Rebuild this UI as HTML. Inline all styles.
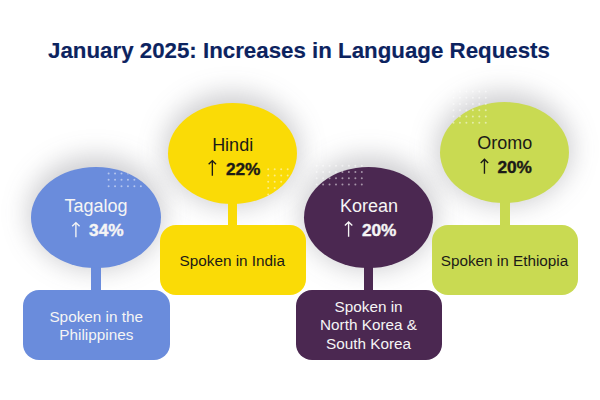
<!DOCTYPE html>
<html>
<head>
<meta charset="utf-8">
<style>
html,body{margin:0;padding:0;background:#fff;}
body{width:600px;height:400px;position:relative;overflow:hidden;font-family:"Liberation Sans",sans-serif;}
.a{position:absolute;}
.sh{position:absolute;border-radius:50%;background:rgba(60,60,72,0.25);filter:blur(13px);width:136px;height:114px;}
.el{position:absolute;width:129.5px;height:101.2px;border-radius:50%;}
.bx{position:absolute;width:146.6px;height:70px;border-radius:16px;}
.st{position:absolute;width:9.8px;}
.t{position:absolute;width:200px;text-align:center;white-space:pre;}
.nm{font-size:18px;line-height:24px;height:24px;}
.num{position:absolute;font-size:17.3px;line-height:24px;height:24px;font-weight:bold;white-space:pre;-webkit-text-stroke:0.4px currentColor;}
.bt{font-size:15.3px;line-height:19px;height:19px;}
.blue{background:#6A8CDC;}.yel{background:#FADB06;}.pur{background:#4B2851;}.grn{background:#C9DA52;}
.wt{color:#F5F5F5;}.dk{color:#1C1A17;}
.title{position:absolute;left:0;width:598px;line-height:30px;font-size:22.3px;font-weight:bold;color:#0C235F;text-align:center;white-space:pre;-webkit-text-stroke:0.15px currentColor;}
</style>
</head>
<body>
<div class="title" style="top:35.87px;">January 2025: Increases in Language Requests</div>
<div class="sh" style="left:27.75px;top:156.40px;"></div>
<div class="sh" style="left:164.25px;top:92.90px;"></div>
<div class="sh" style="left:300.65px;top:156.40px;"></div>
<div class="sh" style="left:436.35px;top:91.60px;"></div>
<div class="st blue" style="left:91.10px;top:262.00px;height:31.90px;"></div>
<div class="bx blue" style="left:23.1px;top:289.9px;"></div>
<div class="el blue" style="left:31.0px;top:166.8px;"></div>
<div class="st yel" style="left:227.60px;top:198.50px;height:30.10px;"></div>
<div class="bx yel" style="left:159.5px;top:224.6px;"></div>
<div class="el yel" style="left:167.5px;top:103.3px;"></div>
<div class="st pur" style="left:363.60px;top:262.00px;height:31.90px;"></div>
<div class="bx pur" style="left:295.5px;top:289.9px;"></div>
<div class="el pur" style="left:303.9px;top:166.8px;"></div>
<div class="st grn" style="left:499.80px;top:197.20px;height:31.40px;"></div>
<div class="bx grn" style="left:431.5px;top:224.6px;"></div>
<div class="el grn" style="left:439.6px;top:102.0px;"></div>
<svg class="a" style="left:0;top:0;" width="600" height="400"><defs><clipPath id="c0"><ellipse cx="95.75" cy="217.40" rx="64.75" ry="50.60"/></clipPath><clipPath id="c1"><ellipse cx="232.25" cy="153.90" rx="64.75" ry="50.60"/></clipPath><clipPath id="c2"><ellipse cx="368.65" cy="217.40" rx="64.75" ry="50.60"/></clipPath><clipPath id="c3"><ellipse cx="504.35" cy="152.60" rx="64.75" ry="50.60"/></clipPath></defs><g fill="#fff" fill-opacity="0.5" clip-path="url(#c0)"><circle cx="108.60" cy="173.50" r="1"/><circle cx="115.05" cy="173.50" r="1"/><circle cx="121.50" cy="173.50" r="1"/><circle cx="127.95" cy="173.50" r="1"/><circle cx="134.40" cy="173.50" r="1"/><circle cx="140.85" cy="173.50" r="1"/><circle cx="108.60" cy="179.85" r="1"/><circle cx="115.05" cy="179.85" r="1"/><circle cx="121.50" cy="179.85" r="1"/><circle cx="127.95" cy="179.85" r="1"/><circle cx="134.40" cy="179.85" r="1"/><circle cx="140.85" cy="179.85" r="1"/><circle cx="108.60" cy="186.20" r="1"/><circle cx="115.05" cy="186.20" r="1"/><circle cx="121.50" cy="186.20" r="1"/><circle cx="127.95" cy="186.20" r="1"/><circle cx="134.40" cy="186.20" r="1"/><circle cx="140.85" cy="186.20" r="1"/></g><g fill="#fff" fill-opacity="0.5" clip-path="url(#c1)"><circle cx="268.20" cy="169.20" r="1"/><circle cx="274.70" cy="169.20" r="1"/><circle cx="281.20" cy="169.20" r="1"/><circle cx="287.70" cy="169.20" r="1"/><circle cx="268.20" cy="175.50" r="1"/><circle cx="274.70" cy="175.50" r="1"/><circle cx="281.20" cy="175.50" r="1"/><circle cx="287.70" cy="175.50" r="1"/><circle cx="268.20" cy="181.80" r="1"/><circle cx="274.70" cy="181.80" r="1"/><circle cx="281.20" cy="181.80" r="1"/><circle cx="287.70" cy="181.80" r="1"/><circle cx="268.20" cy="188.10" r="1"/><circle cx="274.70" cy="188.10" r="1"/><circle cx="281.20" cy="188.10" r="1"/><circle cx="287.70" cy="188.10" r="1"/><circle cx="268.20" cy="194.40" r="1"/><circle cx="274.70" cy="194.40" r="1"/><circle cx="281.20" cy="194.40" r="1"/><circle cx="287.70" cy="194.40" r="1"/></g><g fill="#fff" fill-opacity="0.5"><circle cx="316.65" cy="165.70" r="1"/><circle cx="323.10" cy="165.70" r="1"/><circle cx="329.55" cy="165.70" r="1"/><circle cx="336.00" cy="165.70" r="1"/><circle cx="342.45" cy="165.70" r="1"/><circle cx="348.90" cy="165.70" r="1"/><circle cx="355.35" cy="165.70" r="1"/><circle cx="361.80" cy="165.70" r="1"/><circle cx="316.65" cy="172.00" r="1"/><circle cx="323.10" cy="172.00" r="1"/><circle cx="329.55" cy="172.00" r="1"/><circle cx="336.00" cy="172.00" r="1"/><circle cx="342.45" cy="172.00" r="1"/><circle cx="348.90" cy="172.00" r="1"/><circle cx="355.35" cy="172.00" r="1"/><circle cx="361.80" cy="172.00" r="1"/><circle cx="316.65" cy="178.30" r="1"/><circle cx="323.10" cy="178.30" r="1"/><circle cx="329.55" cy="178.30" r="1"/><circle cx="336.00" cy="178.30" r="1"/><circle cx="342.45" cy="178.30" r="1"/><circle cx="348.90" cy="178.30" r="1"/><circle cx="355.35" cy="178.30" r="1"/><circle cx="361.80" cy="178.30" r="1"/><circle cx="316.65" cy="184.60" r="1"/><circle cx="323.10" cy="184.60" r="1"/><circle cx="329.55" cy="184.60" r="1"/><circle cx="336.00" cy="184.60" r="1"/><circle cx="342.45" cy="184.60" r="1"/><circle cx="348.90" cy="184.60" r="1"/><circle cx="355.35" cy="184.60" r="1"/><circle cx="361.80" cy="184.60" r="1"/></g><g fill="#fff" fill-opacity="0.5"><circle cx="453.50" cy="91.55" r="1"/><circle cx="459.95" cy="91.55" r="1"/><circle cx="466.40" cy="91.55" r="1"/><circle cx="472.85" cy="91.55" r="1"/><circle cx="479.30" cy="91.55" r="1"/><circle cx="485.75" cy="91.55" r="1"/><circle cx="453.50" cy="97.80" r="1"/><circle cx="459.95" cy="97.80" r="1"/><circle cx="466.40" cy="97.80" r="1"/><circle cx="472.85" cy="97.80" r="1"/><circle cx="479.30" cy="97.80" r="1"/><circle cx="485.75" cy="97.80" r="1"/><circle cx="453.50" cy="104.05" r="1"/><circle cx="459.95" cy="104.05" r="1"/><circle cx="466.40" cy="104.05" r="1"/><circle cx="472.85" cy="104.05" r="1"/><circle cx="479.30" cy="104.05" r="1"/><circle cx="485.75" cy="104.05" r="1"/><circle cx="453.50" cy="110.30" r="1"/><circle cx="459.95" cy="110.30" r="1"/><circle cx="466.40" cy="110.30" r="1"/><circle cx="472.85" cy="110.30" r="1"/><circle cx="479.30" cy="110.30" r="1"/><circle cx="485.75" cy="110.30" r="1"/><circle cx="453.50" cy="116.55" r="1"/><circle cx="459.95" cy="116.55" r="1"/><circle cx="466.40" cy="116.55" r="1"/><circle cx="472.85" cy="116.55" r="1"/><circle cx="479.30" cy="116.55" r="1"/><circle cx="485.75" cy="116.55" r="1"/><circle cx="453.50" cy="122.80" r="1"/><circle cx="459.95" cy="122.80" r="1"/><circle cx="466.40" cy="122.80" r="1"/><circle cx="472.85" cy="122.80" r="1"/><circle cx="479.30" cy="122.80" r="1"/><circle cx="485.75" cy="122.80" r="1"/></g><g fill="none" stroke-width="1.35"><path d="M75.9 237.2V222.6M72.20 226.30L75.9 222.60L79.60 226.30" stroke="#F5F5F5"/><path d="M212.35 175.8V160.6M208.65 164.30L212.35 160.60L216.05 164.30" stroke="#1C1A17"/><path d="M348.6 236.8V221.9M344.90 225.60L348.6 221.90L352.30 225.60" stroke="#F5F5F5"/><path d="M484.45 173.8V159.2M480.75 162.90L484.45 159.20L488.15 162.90" stroke="#1C1A17"/></g></svg>
<div class="t nm wt" style="left:-3.95px;top:193.76px;">Tagalog</div>
<div class="t nm dk" style="left:132.65px;top:132.76px;">Hindi</div>
<div class="t nm wt" style="left:269.05px;top:193.76px;">Korean</div>
<div class="t nm dk" style="left:404.75px;top:131.26px;">Oromo</div>
<div class="num wt" style="left:89.10px;top:218.01px;">34%</div>
<div class="num dk" style="left:225.90px;top:156.51px;">22%</div>
<div class="num wt" style="left:361.90px;top:218.01px;">20%</div>
<div class="num dk" style="left:497.40px;top:154.81px;">20%</div>
<div class="t bt wt" style="left:-3.80px;top:306.70px;">Spoken in the</div>
<div class="t bt wt" style="left:-3.70px;top:325.20px;">Philippines</div>
<div class="t bt dk" style="left:132.30px;top:250.80px;">Spoken in India</div>
<div class="t bt wt" style="left:268.60px;top:296.80px;">Spoken in</div>
<div class="t bt wt" style="left:268.50px;top:315.20px;">North Korea &amp;</div>
<div class="t bt wt" style="left:268.50px;top:334.20px;">South Korea</div>
<div class="t bt dk" style="left:404.50px;top:250.90px;">Spoken in Ethiopia</div>
</body>
</html>
